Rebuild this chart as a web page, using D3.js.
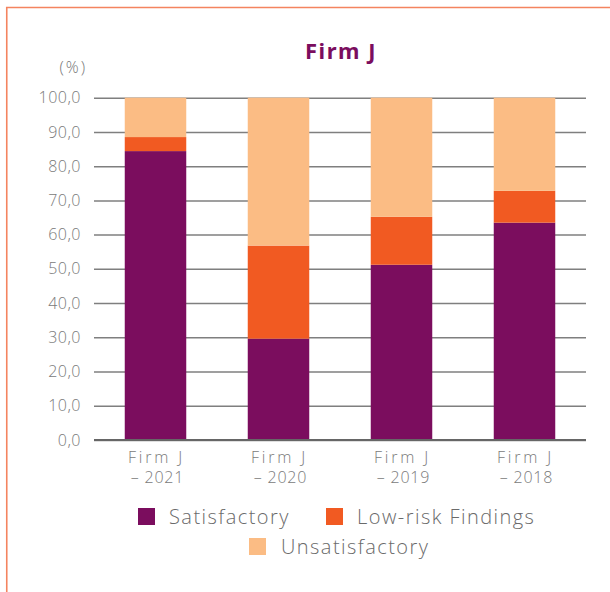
<!DOCTYPE html>
<html>
<head>
<meta charset="utf-8">
<script src="https://cdn.jsdelivr.net/npm/d3@7"></script>
<style>
  body { margin: 0; background: #fff; }
  svg { display: block; }
</style>
</head>
<body>
<svg id="canvas" width="610" height="592"></svg>
<script>
let categories = ['Firm J – 2021', 'Firm J – 2020', 'Firm J – 2019', 'Firm J – 2018']
let catLines = [['Firm J', '– 2021'], ['Firm J', '– 2020'], ['Firm J', '– 2019'], ['Firm J', '– 2018']]
let seriesNames = ['Satisfactory', 'Low-risk Findings', 'Unsatisfactory']
let satisfactory = [84.4, 29.6, 51.2, 63.5]
let lowRisk = [4.1, 27.2, 14.0, 9.3]
let unsatisfactory = [11.5, 43.2, 34.8, 27.2]
let tickValues = [0, 10, 20, 30, 40, 50, 60, 70, 80, 90, 100]
let colors = ['#7b0d5e', '#f15a22', '#fbbc84']

let font = "'Open Sans', 'Noto Sans', sans-serif"
let canvas = d3.select('#canvas')

// frame
canvas.append('path')
  .attr('d', 'M6.75,600 V7.5 H620')
  .attr('fill', 'none')
  .attr('stroke', '#f4845f')
  .attr('stroke-width', 1.6)

let plotLeft = 94, plotRight = 586, plotTop = 97.7, plotBottom = 440

let x = d3.scaleBand().domain(categories).range([plotLeft, plotRight]).paddingInner(0.5).paddingOuter(0.25)
let y = d3.scaleLinear().domain([0, 100]).range([plotBottom, plotTop])

// title
canvas.append('text')
  .attr('x', 341).attr('y', 59)
  .attr('text-anchor', 'middle')
  .attr('font-family', "'Noto Sans', sans-serif").attr('font-weight', 'bold')
  .attr('font-size', 22).attr('letter-spacing', 1.5).attr('fill', '#7b0d5e')
  .text('Firm J')

canvas.append('text')
  .attr('x', 87).attr('y', 73)
  .attr('text-anchor', 'end')
  .attr('font-family', font).attr('font-weight', 300)
  .attr('font-size', 16).attr('letter-spacing', 2).attr('fill', '#777')
  .text('(%)')

// grid
let yAxis = d3.axisLeft(y).tickValues(tickValues).tickSize(-(plotRight - plotLeft)).tickPadding(13)
  .tickFormat(d => d3.format('.1f')(d).replace('.', ','))
let gy = canvas.append('g').attr('transform', `translate(${plotLeft},0)`).call(yAxis)
gy.select('.domain').remove()
gy.selectAll('line').attr('stroke', '#7f7f7f').attr('stroke-width', 1.5)
gy.selectAll('text').attr('font-family', font).attr('font-size', 16)
  .attr('letter-spacing', 0.5).attr('font-weight', 300).attr('fill', '#7a7a7a')

// stacks
let rows = categories.map((c, i) => ({
  cat: c,
  'Satisfactory': satisfactory[i],
  'Low-risk Findings': lowRisk[i],
  'Unsatisfactory': unsatisfactory[i]
}))
let stacked = d3.stack().keys(seriesNames)(rows)

canvas.selectAll('g.series')
  .data(stacked)
  .enter()
  .append('g')
  .attr('class', 'series')
  .attr('fill', (d, i) => colors[i])
  .selectAll('rect')
  .data(d => d)
  .enter()
  .append('rect')
  .attr('x', d => x(d.data.cat))
  .attr('width', x.bandwidth())
  .attr('y', d => y(d[1]))
  .attr('height', d => y(d[0]) - y(d[1]))

// baseline
canvas.append('line')
  .attr('x1', plotLeft).attr('x2', plotRight)
  .attr('y1', plotBottom).attr('y2', plotBottom)
  .attr('stroke', '#666').attr('stroke-width', 2.2)

// x labels
categories.forEach((c, i) => {
  let t = canvas.append('text')
    .attr('text-anchor', 'middle')
    .attr('font-family', font).attr('font-weight', 300)
    .attr('font-size', 16).attr('fill', '#7a7a7a')
  catLines[i].forEach((line, j) => {
    t.append('tspan')
      .attr('x', x(c) + x.bandwidth() / 2 + (j === 1 ? 2 : 1))
      .attr('y', 462.5 + j * 20.5)
      .attr('letter-spacing', j === 0 ? 2.8 : 0.8)
      .text(line)
  })
})

// legend
let legendItems = [
  { name: seriesNames[0], sx: 138, sy: 508, tx: 169, ty: 524 },
  { name: seriesNames[1], sx: 326, sy: 508, tx: 357, ty: 524 },
  { name: seriesNames[2], sx: 249, sy: 538, tx: 281, ty: 554 }
]
legendItems.forEach((d, i) => {
  canvas.append('rect')
    .attr('x', d.sx).attr('y', d.sy)
    .attr('width', 17).attr('height', 17)
    .attr('fill', colors[i])
  canvas.append('text')
    .attr('x', d.tx).attr('y', d.ty)
    .attr('font-family', font).attr('font-weight', 300)
    .attr('font-size', 20).attr('letter-spacing', 1.45).attr('fill', '#6a6a6a')
    .text(d.name)
})
</script>
</body>
</html>
